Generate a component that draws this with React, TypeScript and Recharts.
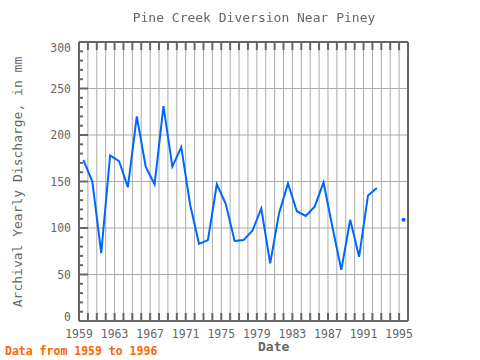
import React from 'react';
import { LineChart, Line, XAxis, YAxis, CartesianGrid } from 'recharts';

// yearly values (mm); nulls are gaps
const years = [
  1959, 1960, 1961, 1962, 1963, 1964, 1965, 1966, 1967, 1968, 1969, 1970,
  1971, 1972, 1973, 1974, 1975, 1976, 1977, 1978, 1979, 1980, 1981, 1982,
  1983, 1984, 1985, 1986, 1987, 1988, 1989, 1990, 1991, 1992, 1993, 1994, 1995,
];
const discharge: (number | null)[] = [
  173, 150, 73, 178, 172, 144, 220, 166, 147, 231, 166, 187,
  125, 83, 87, 147, 126, 86, 87, 97, 121, 62, 116, 148,
  118, 113, 123, 149, 101, 55, 109, 69, 135, 143, null, null, 109,
];
const xLabels = [1959, 1963, 1967, 1971, 1975, 1979, 1983, 1987, 1991, 1995];
const yLabels = [0, 50, 100, 150, 200, 250, 300];

const yearTicks: number[] = [];
for (let y = 1959; y <= 1996; y++) yearTicks.push(y);
const yTicks: number[] = [];
for (let v = 0; v <= 300; v += 10) yTicks.push(v);

// water-year values sit in the middle of each year
const chartData = years.map((y, i) => ({ x: y + 0.5, v: discharge[i] }));

const AXIS = '#666666';
const FONT = '"DejaVu Sans Mono", monospace';

function BottomTick(props: any) {
  const { x, y, payload } = props;
  return (
    <g>
      <line x1={x} y1={y} x2={x} y2={y - 8} stroke={AXIS} strokeWidth={2} />
      {xLabels.includes(payload.value) && (
        <text x={x} y={y + 17} textAnchor="middle" fill={AXIS} fontSize={11.5} fontFamily={FONT}>
          {payload.value}
        </text>
      )}
    </g>
  );
}

function TopTick(props: any) {
  const { x, y } = props;
  return <line x1={x} y1={y} x2={x} y2={y + 8} stroke={AXIS} strokeWidth={2} />;
}

function LeftTick(props: any) {
  const { x, y, payload } = props;
  const major = payload.value % 50 === 0;
  let dy = 4;
  if (payload.value === 300) dy = 10;
  if (payload.value === 0) dy = 0;
  return (
    <g>
      <line x1={x} y1={y} x2={x + (major ? 9 : 4)} y2={y} stroke={AXIS} strokeWidth={2} />
      {yLabels.includes(payload.value) && (
        <text x={x - 8} y={y + dy} textAnchor="end" fill={AXIS} fontSize={11.5} fontFamily={FONT}>
          {payload.value}
        </text>
      )}
    </g>
  );
}

function RightTick(props: any) {
  const { x, y, payload } = props;
  const major = payload.value % 50 === 0;
  return <line x1={x} y1={y} x2={x - (major ? 8 : 4)} y2={y} stroke={AXIS} strokeWidth={2} />;
}

function IsolatedDot(props: any) {
  const { cx, cy, index } = props;
  const lone =
    discharge[index] != null && discharge[index - 1] == null && discharge[index + 1] == null;
  if (!lone) return <g key={`d${index}`} />;
  return <circle key={`d${index}`} cx={cx} cy={cy} r={2} fill="#0066ff" />;
}

export default function App() {
  return (
    <div style={{ position: 'fixed', left: 0, top: 0, width: 480, height: 360, background: '#fff' }}>
      <LineChart width={480} height={360} data={chartData} margin={{ top: 41, right: 71, bottom: 0, left: 0 }}>
        <CartesianGrid
          xAxisId="b"
          yAxisId="l"
          stroke="#aaaaaa"
          strokeWidth={1}
          horizontalValues={yLabels}
          verticalValues={yearTicks}
        />
        <XAxis
          xAxisId="b"
          dataKey="x"
          type="number"
          domain={[1959, 1996]}
          ticks={yearTicks}
          interval={0}
          height={39}
          tickSize={0}
          tickMargin={0}
          tickLine={false}
          axisLine={{ stroke: AXIS, strokeWidth: 2 }}
          tick={<BottomTick />}
        />
        <XAxis
          xAxisId="t"
          orientation="top"
          dataKey="x"
          type="number"
          domain={[1959, 1996]}
          ticks={yearTicks}
          interval={0}
          height={1}
          tickSize={0}
          tickMargin={0}
          tickLine={false}
          axisLine={{ stroke: AXIS, strokeWidth: 2 }}
          tick={<TopTick />}
        />
        <YAxis
          yAxisId="l"
          type="number"
          domain={[0, 300]}
          ticks={yTicks}
          interval={0}
          width={79}
          tickSize={0}
          tickMargin={0}
          tickLine={false}
          axisLine={{ stroke: AXIS, strokeWidth: 2 }}
          tick={<LeftTick />}
        />
        <YAxis
          yAxisId="r"
          orientation="right"
          type="number"
          domain={[0, 300]}
          ticks={yTicks}
          interval={0}
          width={1}
          tickSize={0}
          tickMargin={0}
          tickLine={false}
          axisLine={{ stroke: AXIS, strokeWidth: 2 }}
          tick={<RightTick />}
        />
        <Line
          xAxisId="b"
          yAxisId="l"
          type="linear"
          dataKey="v"
          stroke="#0066ff"
          strokeWidth={2}
          dot={IsolatedDot}
          activeDot={false}
          connectNulls={false}
          isAnimationActive={false}
        />
      </LineChart>
      <div
        style={{
          position: 'absolute', left: 0, width: 508, top: 10, textAlign: 'center',
          fontFamily: FONT, fontSize: 13, color: AXIS,
        }}
      >
        Pine Creek Diversion Near Piney
      </div>
      <div
        style={{
          position: 'absolute', left: 17, top: 182, transform: 'translate(-50%, -50%) rotate(-90deg)',
          whiteSpace: 'nowrap', fontFamily: FONT, fontSize: 13, color: AXIS,
        }}
      >
        Archival Yearly Discharge, in mm
      </div>
      <div
        style={{
          position: 'absolute', left: 258, top: 339, fontFamily: FONT, fontSize: 13,
          fontWeight: 'bold', color: AXIS,
        }}
      >
        Date
      </div>
      <div
        style={{
          position: 'absolute', left: 5, top: 344, fontFamily: FONT, fontSize: 11.5,
          fontWeight: 'bold', color: '#ff6600', whiteSpace: 'nowrap',
        }}
      >
        Data from 1959 to 1996
      </div>
    </div>
  );
}
